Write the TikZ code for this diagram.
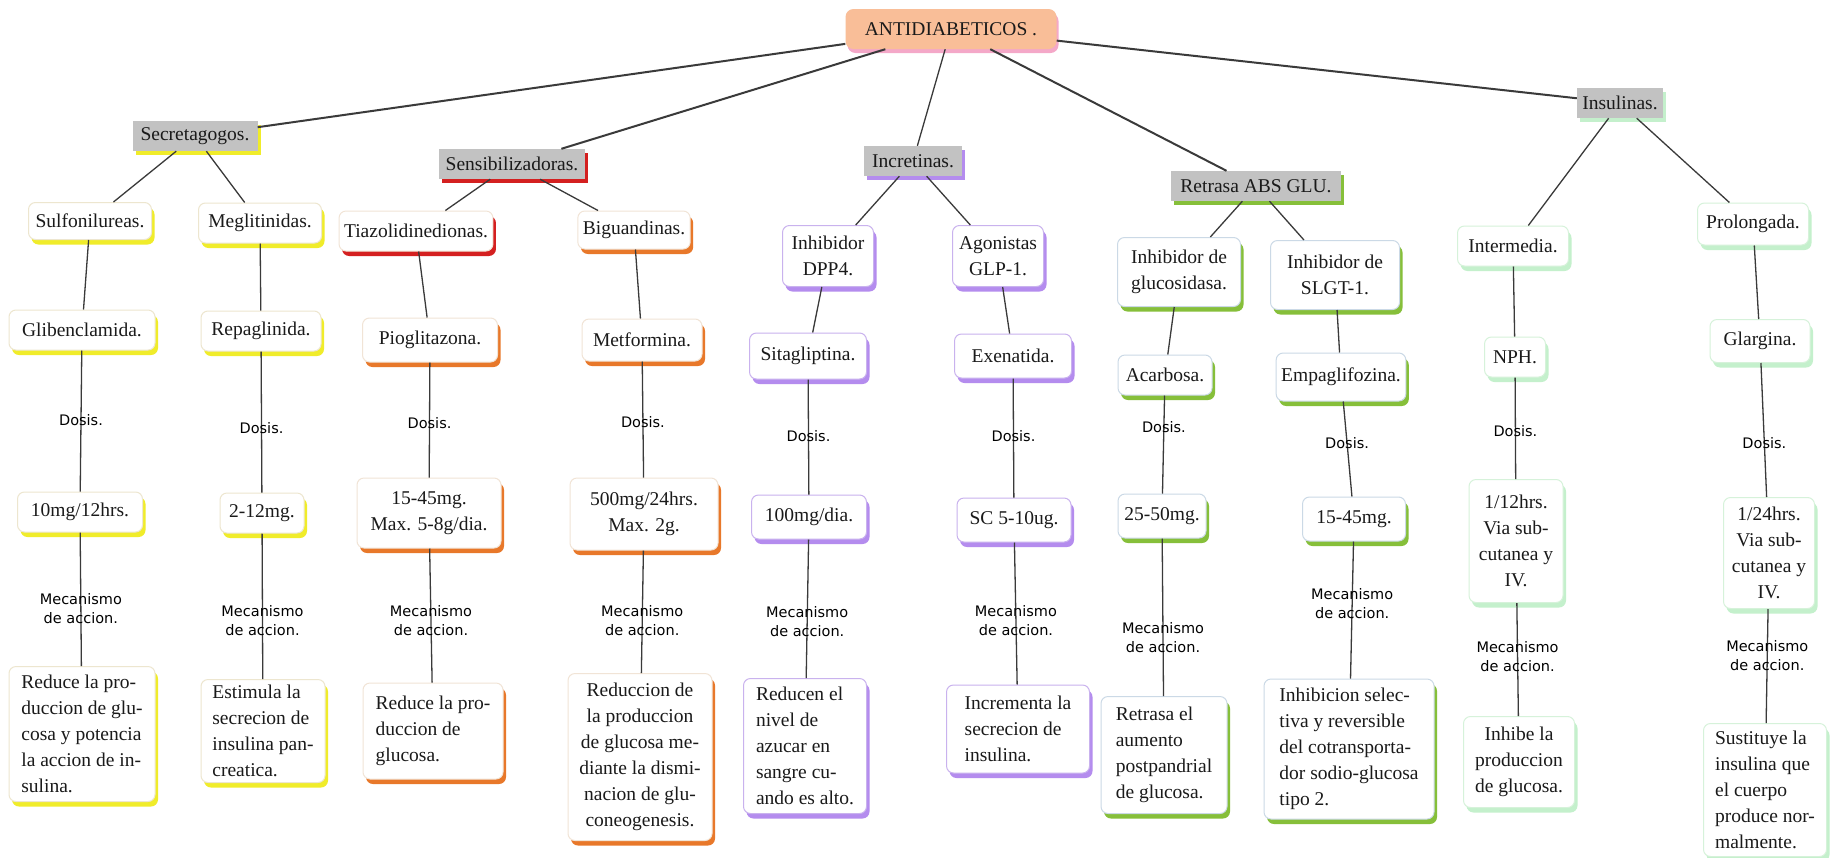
\documentclass[tikz,border=0pt]{standalone}
\usepackage{fontspec}
\setmainfont{Liberation Serif}
\newfontfamily\lblfont{DejaVu Sans}
\usetikzlibrary{shadows}
\definecolor{cyel}{HTML}{F0EC2A}
\definecolor{cred}{HTML}{D42020}
\definecolor{corg}{HTML}{E8782A}
\definecolor{cpur}{HTML}{B48CEE}
\definecolor{cgrn}{HTML}{86BF3A}
\definecolor{cmint}{HTML}{C4F0CC}
\definecolor{hgray}{HTML}{C2C2C2}
\definecolor{peach}{HTML}{F9BE98}
\definecolor{pinkc}{HTML}{F4A8C8}
\definecolor{bdy}{HTML}{EDE6CF}
\definecolor{bdo}{HTML}{F1E4D6}
\definecolor{bdp}{HTML}{C9B2EE}
\definecolor{bdg}{HTML}{CBD9E6}
\definecolor{bdm}{HTML}{D6F2DA}
\definecolor{txtc}{HTML}{1A1A1A}
\definecolor{linec}{HTML}{3A3A3A}
\begin{document}
\begin{tikzpicture}[x=1pt,y=-1pt,
  txtf/.style={font=\fontsize{19.5}{26}\selectfont, text=txtc},
  bx/.style 2 args={draw=#2, fill=white, rounded corners=7pt, line width=1pt,
     drop shadow={fill=#1,opacity=1,shadow xshift=3pt,shadow yshift=-5pt},
     txtf, inner sep=5pt, align=center},
  hdr/.style={fill=hgray, drop shadow={fill=#1,opacity=1,shadow xshift=3pt,shadow yshift=-4pt},
     txtf, inner sep=4pt, minimum height=30pt},
  rootbox/.style={fill=peach, rounded corners=8pt,
     drop shadow={fill=pinkc,opacity=1,shadow xshift=2pt,shadow yshift=-4pt},
     txtf, minimum width=211pt, minimum height=40pt},
  lbl/.style={font=\lblfont\fontsize{14.5}{19}\selectfont, text=black, align=center, inner sep=1pt},
  ln/.style={draw=linec, line width=1.3pt},
  lnt/.style={draw=linec, line width=2pt},
]
\useasboundingbox[fill=white] (0,0) rectangle (1836,857);

% root
\node[rootbox] (root) at (951,29) {ANTIDIABETICOS .};

% level 1
\node[hdr=cyel, minimum width=125pt] (secr) at (195,136) {Secretagogos.};
\node[hdr=cred, minimum width=146pt] (sens) at (512,164) {Sensibilizadoras.};
\node[hdr=cpur, minimum width=98pt] (incr) at (913,161) {Incretinas.};
\node[hdr=cgrn, minimum width=170pt] (retr) at (1256,186) {Retrasa ABS GLU.};
\node[hdr=cmint, minimum width=86pt] (insu) at (1620,103) {Insulinas.};

% level 2
\node[bx={cyel}{bdy}, minimum width=123pt, minimum height=37pt] (sulf) at (90,221) {Sulfonilureas.};
\node[bx={cyel}{bdy}, minimum width=123pt, minimum height=40pt] (megl) at (260,223) {Meglitinidas.};
\node[bx={cred}{bdo}, minimum width=140pt, minimum height=40pt] (tiaz) at (416,231) {Tiazolidinedionas.};
\node[bx={corg}{bdo}, minimum width=103pt, minimum height=38pt] (bigu) at (634,230) {Biguandinas.};
\node[bx={cpur}{bdp}, minimum width=91pt, minimum height=61pt] (dpp) at (828,256) {Inhibidor\\DPP4.};
\node[bx={cpur}{bdp}, minimum width=91pt, minimum height=61pt] (glp) at (998,256) {Agonistas\\GLP-1.};
\node[bx={cgrn}{bdg}, minimum width=123pt, minimum height=69pt] (gluc) at (1179,272) {Inhibidor de\\glucosidasa.};
\node[bx={cgrn}{bdg}, minimum width=129pt, minimum height=69pt] (slgt) at (1335,275) {Inhibidor de\\SLGT-1.};
\node[bx={cmint}{bdm}, minimum width=111pt, minimum height=40pt] (inte) at (1513,246) {Intermedia.};
\node[bx={cmint}{bdm}, minimum width=111pt, minimum height=42pt] (prol) at (1753,224) {Prolongada.};

% level 3 (drugs)
\node[bx={cyel}{bdy}, minimum width=146pt, minimum height=40pt] (glib) at (82,330) {Glibenclamida.};
\node[bx={cyel}{bdy}, minimum width=120pt, minimum height=40pt] (repa) at (261,331) {Repaglinida.};
\node[bx={corg}{bdo}, minimum width=135pt, minimum height=44pt] (piog) at (430,340) {Pioglitazona.};
\node[bx={corg}{bdo}, minimum width=120pt, minimum height=42pt] (metf) at (642,340) {Metformina.};
\node[bx={cpur}{bdp}, minimum width=117pt, minimum height=46pt] (sita) at (808,356) {Sitagliptina.};
\node[bx={cpur}{bdp}, minimum width=117pt, minimum height=44pt] (exen) at (1013,356) {Exenatida.};
\node[bx={cgrn}{bdg}, minimum width=94pt, minimum height=40pt] (acar) at (1165,375) {Acarbosa.};
\node[bx={cgrn}{bdg}, minimum width=129pt, minimum height=48pt] (empa) at (1341,377) {Empaglifozina.};
\node[bx={cmint}{bdm}, minimum width=61pt, minimum height=40pt] (nph) at (1515,357) {NPH.};
\node[bx={cmint}{bdm}, minimum width=100pt, minimum height=43pt] (glar) at (1760,341) {Glargina.};

% doses
\node[bx={cyel}{bdy}, minimum width=125pt, minimum height=40pt] (q1) at (80,512) {10mg/12hrs.};
\node[bx={cyel}{bdy}, minimum width=84pt, minimum height=40pt] (q2) at (262,513) {2-12mg.};
\node[bx={corg}{bdo}, minimum width=144pt, minimum height=70pt] (q3) at (429,513) {15-45mg.\\Max. 5-8g/dia.};
\node[bx={corg}{bdo}, minimum width=148pt, minimum height=72pt] (q4) at (644,514) {500mg/24hrs.\\Max. 2g.};
\node[bx={cpur}{bdp}, minimum width=115pt, minimum height=44pt] (q5) at (809,517) {100mg/dia.};
\node[bx={cpur}{bdp}, minimum width=114pt, minimum height=44pt] (q6) at (1014,520) {SC 5-10ug.};
\node[bx={cgrn}{bdg}, minimum width=88pt, minimum height=44pt] (q7) at (1162,516) {25-50mg.};
\node[bx={cgrn}{bdg}, minimum width=103pt, minimum height=44pt] (q8) at (1354,519) {15-45mg.};
\node[bx={cmint}{bdm}, minimum width=94pt, minimum height=123pt] (q9) at (1516,541) {1/12hrs.\\Via sub-\\cutanea y\\IV.};
\node[bx={cmint}{bdm}, minimum width=91pt, minimum height=111pt] (q10) at (1769,553) {1/24hrs.\\Via sub-\\cutanea y\\IV.};

% mechanisms
\node[bx={cyel}{bdy}, minimum width=146pt, minimum height=135pt, align=left] (x1) at (82,734) {Reduce la pro-\\duccion de glu-\\cosa y potencia\\la accion de in-\\sulina.};
\node[bx={cyel}{bdy}, minimum width=124pt, minimum height=103pt, align=left] (x2) at (263,731) {Estimula la\\secrecion de\\insulina pan-\\creatica.};
\node[bx={corg}{bdo}, minimum width=140pt, minimum height=96pt, align=left] (x3) at (433,731) {Reduce la pro-\\duccion de\\glucosa.};
\node[bx={corg}{bdo}, minimum width=144pt, minimum height=167pt] (x4) at (640,757) {Reduccion de\\la produccion\\de glucosa me-\\diante la dismi-\\nacion de glu-\\coneogenesis.};
\node[bx={cpur}{bdp}, minimum width=123pt, minimum height=135pt, align=left] (x5) at (805,746) {Reducen el\\nivel de\\azucar en\\sangre cu-\\ando es alto.};
\node[bx={cpur}{bdp}, minimum width=143pt, minimum height=88pt, align=left] (x6) at (1018,729) {Incrementa la\\secrecion de\\insulina.};
\node[bx={cgrn}{bdg}, minimum width=126pt, minimum height=117pt, align=left] (x7) at (1164,755) {Retrasa el\\aumento\\postpandrial\\de glucosa.};
\node[bx={cgrn}{bdg}, minimum width=170pt, minimum height=140pt, align=left] (x8) at (1349,749) {Inhibicion selec-\\tiva y reversible\\del cotransporta-\\dor sodio-glucosa\\tipo 2.};
\node[bx={cmint}{bdm}, minimum width=111pt, minimum height=91pt] (x9) at (1519,762) {Inhibe la\\produccion\\de glucosa.};
\node[bx={cmint}{bdm}, minimum width=123pt, minimum height=133pt, align=left] (x10) at (1765,790) {Sustituye la\\insulina que\\el cuerpo\\produce nor-\\malmente.};

% connectors
\draw[lnt] (root) -- (secr);
\draw[lnt] (root) -- (sens);
\draw[ln] (root) -- (incr);
\draw[lnt] (root) -- (retr);
\draw[lnt] (root) -- (insu);

\draw[ln] (secr) -- (sulf);
\draw[ln] (secr) -- (megl);
\draw[ln] (sens) -- (tiaz);
\draw[ln] (sens) -- (bigu);
\draw[ln] (incr) -- (dpp);
\draw[ln] (incr) -- (glp);
\draw[ln] (retr) -- (gluc);
\draw[ln] (retr) -- (slgt);
\draw[ln] (insu) -- (inte);
\draw[ln] (insu) -- (prol);

\draw[ln] (sulf) -- (glib);
\draw[ln] (megl) -- (repa);
\draw[ln] (tiaz) -- (piog);
\draw[ln] (bigu) -- (metf);
\draw[ln] (dpp) -- (sita);
\draw[ln] (glp) -- (exen);
\draw[ln] (gluc) -- (acar);
\draw[ln] (slgt) -- (empa);
\draw[ln] (inte) -- (nph);
\draw[ln] (prol) -- (glar);

\draw[ln] (glib) -- node[lbl,pos=.49] (d1) {Dosis.} (q1);
\draw[ln] (repa) -- node[lbl,pos=.54] (d2) {Dosis.} (q2);
\draw[ln] (piog) -- node[lbl,pos=.53] (d3) {Dosis.} (q3);
\draw[ln] (metf) -- node[lbl,pos=.52] (d4) {Dosis.} (q4);
\draw[ln] (sita) -- node[lbl,pos=.49] (d5) {Dosis.} (q5);
\draw[ln] (exen) -- node[lbl,pos=.48] (d6) {Dosis.} (q6);
\draw[ln] (acar) -- node[lbl,pos=.32] (d7) {Dosis.} (q7);
\draw[ln] (empa) -- node[lbl,pos=.44] (d8) {Dosis.} (q8);
\draw[ln] (nph) -- node[lbl,pos=.53] (d9) {Dosis.} (q9);
\draw[ln] (glar) -- node[lbl,pos=.60] (d10) {Dosis.} (q10);

\draw[ln] (q1) -- node[lbl,pos=.57] (m1) {Mecanismo\\de accion.} (x1);
\draw[ln] (q2) -- node[lbl,pos=.60] (m2) {Mecanismo\\de accion.} (x2);
\draw[ln] (q3) -- node[lbl,pos=.54] (m3) {Mecanismo\\de accion.} (x3);
\draw[ln] (q4) -- node[lbl,pos=.57] (m4) {Mecanismo\\de accion.} (x4);
\draw[ln] (q5) -- node[lbl,pos=.59] (m5) {Mecanismo\\de accion.} (x5);
\draw[ln] (q6) -- node[lbl,pos=.55] (m6) {Mecanismo\\de accion.} (x6);
\draw[ln] (q7) -- node[lbl,pos=.63] (m7) {Mecanismo\\de accion.} (x7);
\draw[ln] (q8) -- node[lbl,pos=.45] (m8) {Mecanismo\\de accion.} (x8);
\draw[ln] (q9) -- node[lbl,pos=.47] (m9) {Mecanismo\\de accion.} (x9);
\draw[ln] (q10) -- node[lbl,pos=.41] (m10) {Mecanismo\\de accion.} (x10);
\end{tikzpicture}
\end{document}
